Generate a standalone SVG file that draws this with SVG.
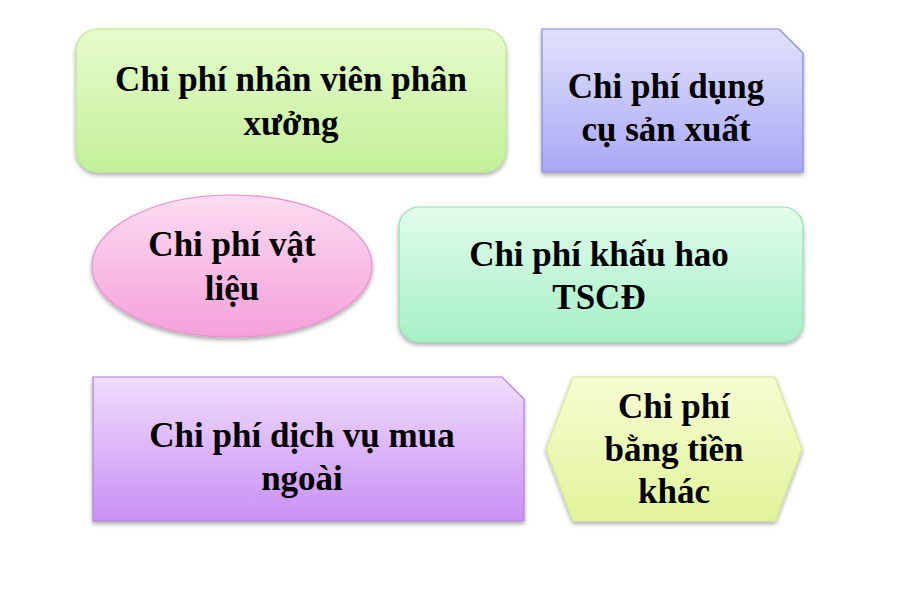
<svg xmlns="http://www.w3.org/2000/svg" width="900" height="590" viewBox="0 0 900 590">
<defs>
<linearGradient id="gGreen" x1="0" y1="0" x2="0" y2="1"><stop offset="0" stop-color="#e6fccc"/><stop offset="1" stop-color="#c4f09a"/></linearGradient>
<linearGradient id="gBlue" x1="0" y1="0" x2="0" y2="1"><stop offset="0" stop-color="#e2e2fc"/><stop offset="1" stop-color="#a8a8f6"/></linearGradient>
<linearGradient id="gPink" x1="0" y1="0" x2="0" y2="1"><stop offset="0" stop-color="#fcdcf0"/><stop offset="1" stop-color="#f4a0da"/></linearGradient>
<linearGradient id="gMint" x1="0" y1="0" x2="0" y2="1"><stop offset="0" stop-color="#e2fcec"/><stop offset="1" stop-color="#a6f0c6"/></linearGradient>
<linearGradient id="gViolet" x1="0" y1="0" x2="0" y2="1"><stop offset="0" stop-color="#f0dcfc"/><stop offset="1" stop-color="#c890f4"/></linearGradient>
<linearGradient id="gYellow" x1="0" y1="0" x2="0" y2="1"><stop offset="0" stop-color="#f6fcd2"/><stop offset="1" stop-color="#e2f49a"/></linearGradient>
<filter id="sh" x="-10%" y="-10%" width="120%" height="125%"><feDropShadow dx="0" dy="2.5" stdDeviation="2" flood-color="#000" flood-opacity="0.35"/></filter>
</defs>
<style>
text{font-family:"Liberation Serif","Times New Roman",serif;font-weight:bold;font-size:35px;fill:#000;text-anchor:middle}
.s{filter:url(#sh);stroke-width:1.2}
</style>
<rect width="900" height="590" fill="#fff"/>
<g id="node-nhanvien">
<rect class="s" x="76" y="29" width="430" height="143" rx="22" fill="url(#gGreen)" stroke="#b8e890"/>
<text x="291" y="91">Chi phí nhân viên phân</text>
<text x="291" y="135">xưởng</text>
</g>
<g id="node-dungcu">
<path class="s" d="M542 29 H779 L803 53 V172 H542 Z" fill="url(#gBlue)" stroke="#8888d8"/>
<text x="666" y="98">Chi phí dụng</text>
<text x="666" y="141">cụ sản xuất</text>
</g>
<g id="node-vatlieu">
<ellipse class="s" cx="232" cy="266" rx="140" ry="71" fill="url(#gPink)" stroke="#e890cc"/>
<text x="232" y="256">Chi phí vật</text>
<text x="232" y="300">liệu</text>
</g>
<g id="node-khauhao">
<rect class="s" x="399" y="207" width="404" height="135" rx="20" fill="url(#gMint)" stroke="#96e0b6"/>
<text x="599" y="266">Chi phí khấu hao</text>
<text x="599" y="309">TSCĐ</text>
</g>
<g id="node-dichvu">
<path class="s" d="M93 377 H502 L524 399 V521 H93 Z" fill="url(#gViolet)" stroke="#b080e0"/>
<text x="302" y="447">Chi phí dịch vụ mua</text>
<text x="302" y="490">ngoài</text>
</g>
<g id="node-khac">
<polygon class="s" points="573,377 775,377 802,449 775,521 573,521 546,449" fill="url(#gYellow)" stroke="#d4e890"/>
<text x="674" y="418">Chi phí</text>
<text x="674" y="461">bằng tiền</text>
<text x="674" y="503">khác</text>
</g>
<g id="connectors"></g>
</svg>
